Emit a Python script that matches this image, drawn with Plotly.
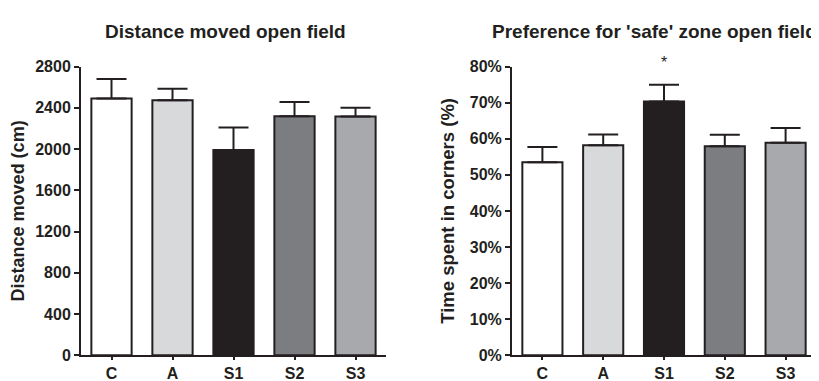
import plotly.graph_objects as go

groups = ["C", "A", "S1", "S2", "S3"]
distance_mean = [2490, 2475, 1990, 2318, 2315]
distance_sem = [190, 110, 220, 140, 85]
corners_mean = [53.5, 58.2, 70.3, 57.9, 58.9]
corners_sem = [4.2, 3.0, 4.7, 3.2, 4.1]
bar_colors = ["#ffffff", "#d8d9db", "#231f20", "#7c7d81", "#a8a9ad"]
dist_ticks = [0, 400, 800, 1200, 1600, 2000, 2400, 2800]
pct_ticks = [0, 10, 20, 30, 40, 50, 60, 70, 80]

dark = "#231f20"
font = "Liberation Sans, Arial, sans-serif"

fig = go.Figure()

def add_bars(y, err, xa, ya):
    fig.add_trace(go.Bar(
        x=groups, y=y, xaxis=xa, yaxis=ya,
        marker=dict(color=bar_colors, line=dict(color=dark, width=2)),
        error_y=dict(type="data", array=err, arrayminus=[0]*len(err), symmetric=False,
                     color=dark, thickness=2, width=15),
        showlegend=False, hoverinfo="skip",
    ))

add_bars(distance_mean, distance_sem, "x", "y")
add_bars(corners_mean, corners_sem, "x2", "y2")

y0 = (381 - 355) / 381
y1 = (381 - 53) / 381

tf = dict(family=font, size=16, color=dark)
axis_common = dict(showline=True, linecolor=dark, linewidth=2, showgrid=False, zeroline=False,
                   ticks="outside", tickcolor=dark, tickwidth=2, ticklen=5, tickfont=tf)

xcat = dict(tickmode="array", tickvals=groups, ticktext=[f"<b>{g}</b>" for g in groups], ticklen=3)

fig.update_layout(
    width=819, height=381,
    margin=dict(l=0, r=0, t=0, b=0),
    paper_bgcolor="white", plot_bgcolor="white",
    bargap=0.34,
    font=dict(family=font, color=dark),
    xaxis=dict(domain=[73/819, 378/819], anchor="y", **{**axis_common, **xcat}),
    yaxis=dict(domain=[y0, y1], anchor="x", range=[0, 2800], tickmode="array", tickvals=dist_ticks,
               ticktext=[f"<b>{v}</b>" for v in dist_ticks],
               title=dict(text="<b>Distance moved (cm)</b>", font=dict(family=font, size=18, color=dark), standoff=10),
               **axis_common),
    xaxis2=dict(domain=[504/819, 808/819], anchor="y2", **{**axis_common, **xcat}),
    yaxis2=dict(domain=[y0, y1], anchor="x2", range=[0, 80], tickmode="array", tickvals=pct_ticks,
                ticktext=[f"<b>{v}%</b>" for v in pct_ticks],
                title=dict(text="<b>Time spent in corners (%)</b>", font=dict(family=font, size=18.5, color=dark), standoff=10),
                **axis_common),
    annotations=[
        dict(text="<b>Distance moved open field</b>", x=217/819, y=1-16/381, xref="paper", yref="paper",
             showarrow=False, font=dict(family=font, size=19, color=dark), xanchor="center", yanchor="middle"),
        dict(text="<b>Preference for 'safe' zone open field</b>", x=646/819, y=1-16/381, xref="paper", yref="paper",
             showarrow=False, font=dict(family=font, size=19, color=dark), xanchor="center", yanchor="middle"),
        dict(text="*", x="S1", y=78.0, xref="x2", yref="y2", yshift=11,
             showarrow=False, font=dict(family=font, size=16, color=dark), yanchor="middle"),
    ],
)

fig.write_html("out.html")
